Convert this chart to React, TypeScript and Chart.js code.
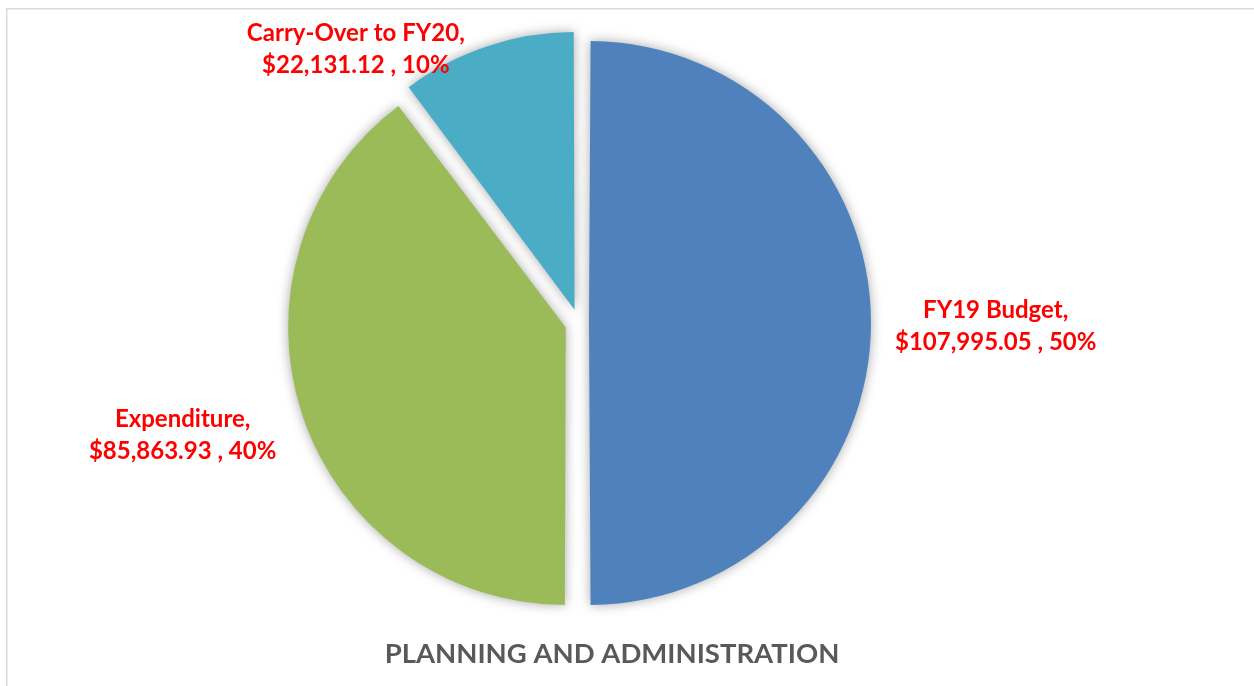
import React, { useEffect, useRef } from "react";
import { Chart, registerables } from "chart.js";

Chart.register(...registerables);

const categories = ["FY19 Budget", "Expenditure", "Carry-Over to FY20"];
const amounts = [107995.05, 85863.93, 22131.12];
const sliceColors = ["#4F81BD", "#9BBB59", "#4BACC6"];
const chartTitle = "PLANNING AND ADMINISTRATION";

// layout / styling (not data)
const SLICE_OFFSETS = [40, 56, 56];
const LABEL_GAP = [24, 26, 22];
const LABEL_DY = [3, 20, 3];
const LABEL_FONT = "bold 24px Lato";
const LINE_H = 32;

const fmtMoney = (v: number) =>
  "$" + v.toLocaleString("en-US", { minimumFractionDigits: 2, maximumFractionDigits: 2 });

const decorPlugin = {
  id: "decor",
  beforeDraw(chart: any) {
    const ctx = chart.ctx;
    ctx.save();
    ctx.fillStyle = "#ffffff";
    ctx.fillRect(0, 0, chart.width, chart.height);
    ctx.strokeStyle = "#d9d9d9";
    ctx.lineWidth = 1.5;
    ctx.beginPath();
    ctx.moveTo(6.75, chart.height);
    ctx.lineTo(6.75, 8.75);
    ctx.lineTo(chart.width, 8.75);
    ctx.stroke();
    ctx.restore();
  },
  beforeDatasetsDraw(chart: any) {
    const ctx = chart.ctx;
    ctx.save();
    ctx.shadowColor = "rgba(0,0,0,0.35)";
    ctx.shadowBlur = 12;
    ctx.shadowOffsetX = 0;
    ctx.shadowOffsetY = 0;
  },
  afterDatasetsDraw(chart: any) {
    chart.ctx.restore();
  },
  afterDraw(chart: any) {
    const ctx = chart.ctx;
    const meta = chart.getDatasetMeta(0);
    const data = chart.data.datasets[0].data as number[];
    const total = data.reduce((a, b) => a + b, 0);
    ctx.save();
    ctx.font = LABEL_FONT;
    ctx.fillStyle = "#FF0000";
    ctx.textBaseline = "middle";
    ctx.textAlign = "center";
    meta.data.forEach((arc: any, i: number) => {
      const { x, y, startAngle, endAngle, outerRadius, circumference } = arc.getProps(
        ["x", "y", "startAngle", "endAngle", "outerRadius", "circumference"],
        true
      );
      const mid = (startAngle + endAngle) / 2;
      const t = (arc.options.offset || 0) / 4;
      const fix = 1 - Math.sin(Math.min(Math.PI, circumference || 0));
      const r = outerRadius + t + t * fix;
      const ex = x + Math.cos(mid) * r;
      const ey = y + Math.sin(mid) * r;
      const pct = Math.round((data[i] / total) * 100) + "%";
      const lines = [chart.data.labels[i] + ",", fmtMoney(data[i]) + " , " + pct];
      const w = Math.max(...lines.map((l) => ctx.measureText(l).width));
      const cx = Math.cos(mid) >= 0 ? ex + LABEL_GAP[i] + w / 2 : ex - LABEL_GAP[i] - w / 2;
      const cy = ey + LABEL_DY[i];
      lines.forEach((l, k) => {
        ctx.fillText(l, cx, cy + (k - (lines.length - 1) / 2) * LINE_H);
      });
    });
    // chart title
    ctx.font = "bold 27.5px Lato";
    ctx.fillStyle = "#595959";
    ctx.textAlign = "center";
    ctx.fillText(chartTitle, 612, 654);
    ctx.restore();
  },
};

export default function App() {
  const ref = useRef<HTMLCanvasElement>(null);
  useEffect(() => {
    document.body.style.margin = "0";
    const chart = new Chart(ref.current!, {
      type: "pie",
      data: {
        labels: categories,
        datasets: [
          {
            data: amounts,
            backgroundColor: sliceColors,
            borderWidth: 0,
            offset: SLICE_OFFSETS,
            hoverOffset: 0,
          },
        ],
      },
      options: {
        animation: false,
        responsive: false,
        radius: 272,
        layout: { padding: { left: 0, right: 96, top: 0, bottom: 40 } },
        plugins: {
          legend: { display: false },
          tooltip: { enabled: false },
          title: { display: false },
        },
      } as any,
      plugins: [decorPlugin],
    });
    return () => chart.destroy();
  }, []);
  return (
    <div style={{ width: 1254, height: 686 }}>
      <canvas ref={ref} width={1254} height={686} style={{ display: "block" }} />
    </div>
  );
}
